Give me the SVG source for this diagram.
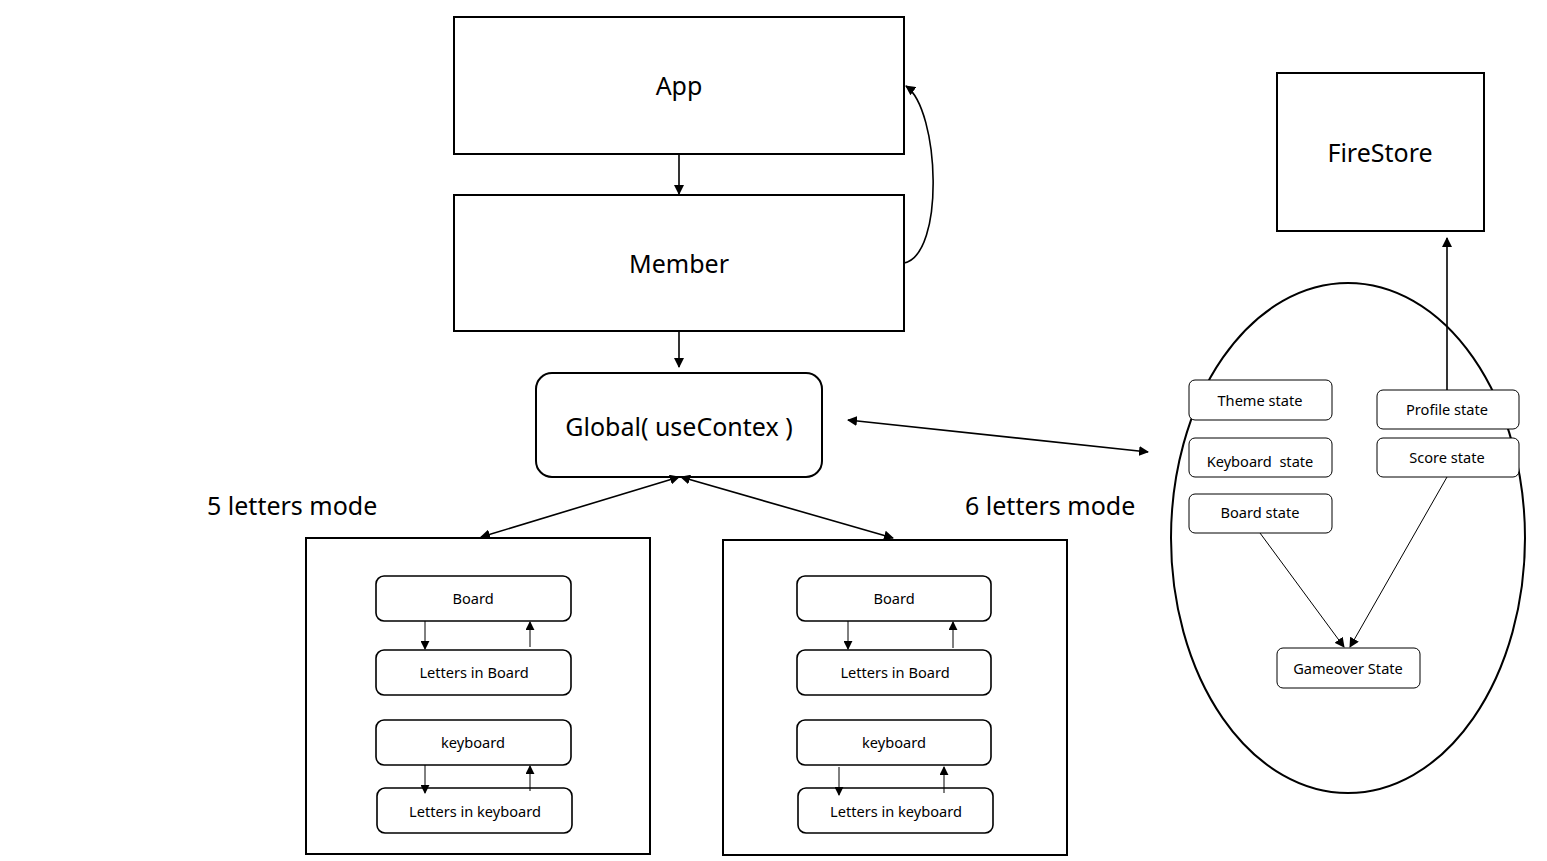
<svg xmlns="http://www.w3.org/2000/svg" width="1547" height="861" viewBox="0 0 1547 861">
<defs>
<style>
.big{fill:#fff;stroke:#000;stroke-width:2}
.sm{fill:#fff;stroke:#000;stroke-width:1.6}
.st{fill:#fff;stroke:#000;stroke-width:1}
.t1{font-family:"Noto Sans","Open Sans",sans-serif;font-size:25px;fill:#000;text-anchor:middle}
.t2{font-family:"Noto Sans","Open Sans",sans-serif;font-size:14.6px;fill:#000;text-anchor:middle}
.lbl{font-family:"Noto Sans","Open Sans",sans-serif;font-size:25px;fill:#000}
.c{fill:none;stroke:#000;stroke-width:1.6}
.ct{fill:none;stroke:#000;stroke-width:1}
</style>
<marker id="ah" viewBox="0 0 10 10" refX="9" refY="5" markerWidth="9" markerHeight="9" markerUnits="userSpaceOnUse" orient="auto-start-reverse">
<path d="M0,0 L10,5 L0,10 z" fill="#000"/>
</marker>
<marker id="ahs" viewBox="0 0 10 10" refX="9" refY="5" markerWidth="10" markerHeight="10" markerUnits="userSpaceOnUse" orient="auto-start-reverse">
<path d="M0,0 L10,5 L0,10 z" fill="#000"/>
</marker>
</defs>
<rect width="1547" height="861" fill="#fff"/>

<g id="app"><rect class="big" x="454" y="17" width="450" height="137"/><text class="t1" x="679" y="95">App</text></g>
<g id="member"><rect class="big" x="454" y="195" width="450" height="136"/><text class="t1" x="679" y="273">Member</text></g>
<g id="global"><rect class="big" x="536" y="373" width="286" height="104" rx="16"/><text class="t1" x="679" y="436">Global( useContex )</text></g>
<g id="label5"><text class="lbl" x="207" y="515">5 letters mode</text></g>
<g id="label6"><text class="lbl" x="965" y="515">6 letters mode</text></g>

<g id="mode5">
<rect class="big" x="306" y="538" width="344" height="316"/>
<g id="b5"><rect class="sm" x="376" y="576" width="195" height="45" rx="8"/><text class="t2" x="473" y="604">Board</text></g>
<g id="lb5"><rect class="sm" x="376" y="650" width="195" height="45" rx="8"/><text class="t2" x="474" y="678">Letters in Board</text></g>
<g id="k5"><rect class="sm" x="376" y="720" width="195" height="45" rx="8"/><text class="t2" x="473" y="748">keyboard</text></g>
<g id="lk5"><rect class="sm" x="377" y="788" width="195" height="45" rx="8"/><text class="t2" x="475" y="817">Letters in keyboard</text></g>
</g>

<g id="mode6">
<rect class="big" x="723" y="540" width="344" height="315"/>
<g id="b6"><rect class="sm" x="797" y="576" width="194" height="45" rx="8"/><text class="t2" x="894" y="604">Board</text></g>
<g id="lb6"><rect class="sm" x="797" y="650" width="194" height="45" rx="8"/><text class="t2" x="895" y="678">Letters in Board</text></g>
<g id="k6"><rect class="sm" x="797" y="720" width="194" height="45" rx="8"/><text class="t2" x="894" y="748">keyboard</text></g>
<g id="lk6"><rect class="sm" x="798" y="788" width="195" height="45" rx="8"/><text class="t2" x="896" y="817">Letters in keyboard</text></g>
</g>

<g id="statescope">
<ellipse cx="1348" cy="538" rx="177" ry="255" fill="none" stroke="#000" stroke-width="2"/>
</g>
<g id="firestore"><rect class="big" x="1277" y="73" width="207" height="158"/><text class="t1" x="1380" y="162">FireStore</text></g>
<g id="theme"><rect class="st" x="1189" y="380" width="143" height="40" rx="6"/><text class="t2" x="1260" y="406">Theme state</text></g>
<g id="kbstate"><rect class="st" x="1189" y="438" width="143" height="39" rx="6"/><text class="t2" x="1260" y="467">Keyboard&#160; state</text></g>
<g id="boardstate"><rect class="st" x="1189" y="494" width="143" height="39" rx="6"/><text class="t2" x="1260" y="518">Board state</text></g>
<g id="profile"><rect class="st" x="1377" y="390" width="142" height="39" rx="6"/><text class="t2" x="1447" y="415">Profile state</text></g>
<g id="score"><rect class="st" x="1377" y="438" width="142" height="39" rx="6"/><text class="t2" x="1447" y="463">Score state</text></g>
<g id="gameover"><rect class="st" x="1277" y="648" width="143" height="40" rx="6"/><text class="t2" x="1348" y="674">Gameover State</text></g>

<g id="connectors">
<line class="c" x1="679" y1="154" x2="679" y2="194" marker-end="url(#ahs)"/>
<path class="c" d="M904,263 C945,255 940,110 906,86" marker-end="url(#ahs)"/>
<line class="c" x1="679" y1="331" x2="679" y2="367" marker-end="url(#ahs)"/>
<line class="c" x1="848" y1="420" x2="1148" y2="452" marker-start="url(#ahs)" marker-end="url(#ahs)"/>
<line class="c" x1="679" y1="477" x2="481" y2="537" marker-start="url(#ahs)" marker-end="url(#ahs)"/>
<line class="c" x1="681" y1="477" x2="893" y2="538" marker-start="url(#ahs)" marker-end="url(#ahs)"/>
<line class="ct" x1="425" y1="621" x2="425" y2="649" marker-end="url(#ah)"/>
<line class="ct" x1="530" y1="647" x2="530" y2="622" marker-end="url(#ah)"/>
<line class="ct" x1="425" y1="765" x2="425" y2="793" marker-end="url(#ah)"/>
<line class="ct" x1="530" y1="791" x2="530" y2="766" marker-end="url(#ah)"/>
<line class="ct" x1="848" y1="621" x2="848" y2="649" marker-end="url(#ah)"/>
<line class="ct" x1="953" y1="648" x2="953" y2="622" marker-end="url(#ah)"/>
<line class="ct" x1="839" y1="767" x2="839" y2="795" marker-end="url(#ah)"/>
<line class="ct" x1="944" y1="793" x2="944" y2="767" marker-end="url(#ah)"/>
<line class="c" x1="1447" y1="390" x2="1447" y2="238" marker-end="url(#ahs)"/>
<line class="ct" x1="1260" y1="533" x2="1344" y2="647" marker-end="url(#ahs)"/>
<line class="ct" x1="1447" y1="477" x2="1350" y2="647" marker-end="url(#ahs)"/>
</g>
</svg>
